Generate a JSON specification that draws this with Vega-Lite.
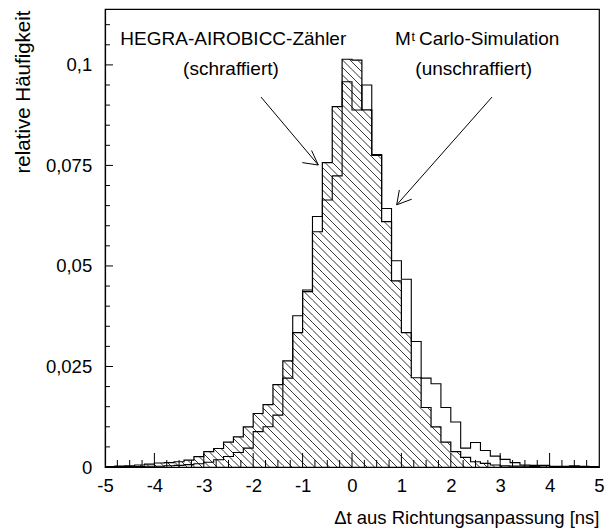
{
  "$schema": "https://vega.github.io/schema/vega-lite/v6.json",
  "width": 494,
  "height": 458,
  "autosize": {"type": "none"},
  "padding": {"left": 105, "top": 9, "right": 15, "bottom": 61},
  "background": "white",
  "config": {
    "view": {"stroke": "black", "strokeWidth": 1.2},
    "font": "Liberation Sans",
    "text": {"font": "Liberation Sans", "color": "black"}
  },
  "datasets": {
    "hist": [
      {"x0": -5.0, "x1": -4.8, "hegra": 0.0001, "mc": 0.0000},
      {"x0": -4.8, "x1": -4.6, "hegra": 0.0002, "mc": 0.0001},
      {"x0": -4.6, "x1": -4.4, "hegra": 0.0003, "mc": 0.0001},
      {"x0": -4.4, "x1": -4.2, "hegra": 0.0005, "mc": 0.0001},
      {"x0": -4.2, "x1": -4.0, "hegra": 0.0007, "mc": 0.0002},
      {"x0": -4.0, "x1": -3.8, "hegra": 0.0010, "mc": 0.0002},
      {"x0": -3.8, "x1": -3.6, "hegra": 0.0011, "mc": 0.0003},
      {"x0": -3.6, "x1": -3.4, "hegra": 0.0013, "mc": 0.0004},
      {"x0": -3.4, "x1": -3.2, "hegra": 0.0017, "mc": 0.0006},
      {"x0": -3.2, "x1": -3.0, "hegra": 0.0026, "mc": 0.0008},
      {"x0": -3.0, "x1": -2.8, "hegra": 0.0038, "mc": 0.0012},
      {"x0": -2.8, "x1": -2.6, "hegra": 0.0046, "mc": 0.0018},
      {"x0": -2.6, "x1": -2.4, "hegra": 0.0062, "mc": 0.0026},
      {"x0": -2.4, "x1": -2.2, "hegra": 0.0075, "mc": 0.0036},
      {"x0": -2.2, "x1": -2.0, "hegra": 0.0100, "mc": 0.0047},
      {"x0": -2.0, "x1": -1.8, "hegra": 0.0133, "mc": 0.0088},
      {"x0": -1.8, "x1": -1.6, "hegra": 0.0155, "mc": 0.0100},
      {"x0": -1.6, "x1": -1.4, "hegra": 0.0205, "mc": 0.0129},
      {"x0": -1.4, "x1": -1.2, "hegra": 0.0264, "mc": 0.0221},
      {"x0": -1.2, "x1": -1.0, "hegra": 0.0334, "mc": 0.0376},
      {"x0": -1.0, "x1": -0.8, "hegra": 0.0436, "mc": 0.0440},
      {"x0": -0.8, "x1": -0.6, "hegra": 0.0585, "mc": 0.0623},
      {"x0": -0.6, "x1": -0.4, "hegra": 0.0757, "mc": 0.0664},
      {"x0": -0.4, "x1": -0.2, "hegra": 0.0896, "mc": 0.0724},
      {"x0": -0.2, "x1": 0.0, "hegra": 0.1014, "mc": 0.0958},
      {"x0": 0.0, "x1": 0.2, "hegra": 0.1012, "mc": 0.0888},
      {"x0": 0.2, "x1": 0.4, "hegra": 0.0888, "mc": 0.0950},
      {"x0": 0.4, "x1": 0.6, "hegra": 0.0775, "mc": 0.0777},
      {"x0": 0.6, "x1": 0.8, "hegra": 0.0610, "mc": 0.0643},
      {"x0": 0.8, "x1": 1.0, "hegra": 0.0463, "mc": 0.0513},
      {"x0": 1.0, "x1": 1.2, "hegra": 0.0334, "mc": 0.0467},
      {"x0": 1.2, "x1": 1.4, "hegra": 0.0222, "mc": 0.0312},
      {"x0": 1.4, "x1": 1.6, "hegra": 0.0148, "mc": 0.0221},
      {"x0": 1.6, "x1": 1.8, "hegra": 0.0100, "mc": 0.0207},
      {"x0": 1.8, "x1": 2.0, "hegra": 0.0062, "mc": 0.0148},
      {"x0": 2.0, "x1": 2.2, "hegra": 0.0038, "mc": 0.0112},
      {"x0": 2.2, "x1": 2.4, "hegra": 0.0024, "mc": 0.0047},
      {"x0": 2.4, "x1": 2.6, "hegra": 0.0013, "mc": 0.0061},
      {"x0": 2.6, "x1": 2.8, "hegra": 0.0009, "mc": 0.0041},
      {"x0": 2.8, "x1": 3.0, "hegra": 0.0005, "mc": 0.0027},
      {"x0": 3.0, "x1": 3.2, "hegra": 0.0003, "mc": 0.0019},
      {"x0": 3.2, "x1": 3.4, "hegra": 0.0002, "mc": 0.0011},
      {"x0": 3.4, "x1": 3.6, "hegra": 0.0002, "mc": 0.0005},
      {"x0": 3.6, "x1": 3.8, "hegra": 0.0001, "mc": 0.0004},
      {"x0": 3.8, "x1": 4.0, "hegra": 0.0003, "mc": 0.0004},
      {"x0": 4.0, "x1": 4.2, "hegra": 0.0001, "mc": 0.0002},
      {"x0": 4.2, "x1": 4.4, "hegra": 0.0001, "mc": 0.0002},
      {"x0": 4.4, "x1": 4.6, "hegra": 0.0001, "mc": 0.0003},
      {"x0": 4.6, "x1": 4.8, "hegra": 0.0001, "mc": 0.0002},
      {"x0": 4.8, "x1": 5.0, "hegra": 0.0000, "mc": 0.0001}
    ],
    "xMajor": [{"X": -4}, {"X": -3}, {"X": -2}, {"X": -1}, {"X": 0}, {"X": 1}, {"X": 2}, {"X": 3}, {"X": 4}],
    "xMinor": [
      {"X": -4.75}, {"X": -4.5}, {"X": -4.25}, {"X": -3.75}, {"X": -3.5}, {"X": -3.25},
      {"X": -2.75}, {"X": -2.5}, {"X": -2.25}, {"X": -1.75}, {"X": -1.5}, {"X": -1.25},
      {"X": -0.75}, {"X": -0.5}, {"X": -0.25}, {"X": 0.25}, {"X": 0.5}, {"X": 0.75},
      {"X": 1.25}, {"X": 1.5}, {"X": 1.75}, {"X": 2.25}, {"X": 2.5}, {"X": 2.75},
      {"X": 3.25}, {"X": 3.5}, {"X": 3.75}, {"X": 4.25}, {"X": 4.5}, {"X": 4.75}
    ],
    "yMajor": [{"Y": 0.025}, {"Y": 0.05}, {"Y": 0.075}, {"Y": 0.1}],
    "yMinor": [
      {"Y": 0.005}, {"Y": 0.01}, {"Y": 0.015}, {"Y": 0.02}, {"Y": 0.03}, {"Y": 0.035},
      {"Y": 0.04}, {"Y": 0.045}, {"Y": 0.055}, {"Y": 0.06}, {"Y": 0.065}, {"Y": 0.07},
      {"Y": 0.08}, {"Y": 0.085}, {"Y": 0.09}, {"Y": 0.095}, {"Y": 0.105}, {"Y": 0.11}
    ],
    "notesCenter": [
      {"X": -2.403, "Y": 0.1050, "T": "HEGRA-AIROBICC-Zähler"},
      {"X": -2.45, "Y": 0.0975, "T": "(schraffiert)"},
      {"X": 2.464, "Y": 0.0975, "T": "(unschraffiert)"}
    ],
    "notesLeft": [
      {"X": 0.87, "Y": 0.1050, "T": "M"},
      {"X": 1.356, "Y": 0.1050, "T": "Carlo-Simulation"}
    ],
    "notesSup": [
      {"X": 1.205, "Y": 0.1059, "T": "t"}
    ],
    "arrows": [
      {"X": -1.842, "Y": 0.0920, "X2": -0.682, "Y2": 0.0751},
      {"X": -0.818, "Y": 0.0787, "X2": -0.682, "Y2": 0.0751},
      {"X": -1.006, "Y": 0.0757, "X2": -0.682, "Y2": 0.0751},
      {"X": 2.834, "Y": 0.0920, "X2": 0.905, "Y2": 0.0652},
      {"X": 0.958, "Y": 0.0689, "X2": 0.905, "Y2": 0.0652},
      {"X": 1.209, "Y": 0.0666, "X2": 0.905, "Y2": 0.0652}
    ]
  },
  "encoding": {
    "x": {
      "field": "X", "type": "quantitative",
      "scale": {"domain": [-5, 5], "nice": false, "zero": false},
      "axis": {
        "values": [-5,-4,-3,-2,-1,0,1,2,3,4,5],
        "labelExpr": "'' + datum.value",
        "ticks": false,
        "labelPadding": 24.7,
        "labelBaseline": "alphabetic",
        "labelFont": "Liberation Sans", "labelFontSize": 18.5, "labelColor": "black",
        "labelFlush": false, "labelOverlap": false, "labelBound": false,
        "domainColor": "black", "domainWidth": 1.2,
        "grid": false,
        "title": "Δt aus Richtungsanpassung [ns]",
        "titleFont": "Liberation Sans", "titleFontSize": 18.5, "titleFontWeight": "normal", "titleColor": "black",
        "titleAnchor": "end", "titleAlign": "right", "titleX": 494, "titleY": 56.3, "titleBaseline": "alphabetic"
      }
    },
    "y": {
      "field": "Y", "type": "quantitative",
      "scale": {"domain": [0, 0.1139], "nice": false, "zero": false},
      "axis": {
        "values": [0, 0.025, 0.05, 0.075, 0.1],
        "labelExpr": "replace('' + datum.value, '.', ',')",
        "ticks": false,
        "labelPadding": 13.3,
        "labelFont": "Liberation Sans", "labelFontSize": 18.5, "labelColor": "black",
        "labelFlush": false, "labelOverlap": false, "labelBound": false,
        "domainColor": "black", "domainWidth": 1.2,
        "grid": false,
        "title": "relative Häufigkeit",
        "titleFont": "Liberation Sans", "titleFontSize": 20.5, "titleFontWeight": "normal", "titleColor": "black",
        "titleAngle": -90, "titleAnchor": "end", "titleAlign": "right", "titleX": -76, "titleY": 1, "titleBaseline": "alphabetic"
      }
    }
  },
  "layer": [
    {
      "data": {"name": "hist"},
      "transform": [
        {"calculate": "sequence(ceil(0.012285*datum.x0/0.001865), floor((datum.hegra+0.012285*datum.x1)/0.001865)+1)", "as": "ks"},
        {"flatten": ["ks"], "as": ["k"]},
        {"calculate": "datum.k*0.001865", "as": "c"},
        {"calculate": "max(datum.x0, (datum.c-datum.hegra)/0.012285)", "as": "X"},
        {"calculate": "min(datum.x1, datum.c/0.012285)", "as": "X2"},
        {"filter": "datum.X2 > datum.X + 1e-9"},
        {"calculate": "datum.c-0.012285*datum.X", "as": "Y"},
        {"calculate": "datum.c-0.012285*datum.X2", "as": "Y2"}
      ],
      "mark": {"type": "rule", "stroke": "black", "strokeWidth": 0.8},
      "encoding": {
        "x2": {"field": "X2"},
        "y2": {"field": "Y2"}
      }
    },
    {
      "data": {"name": "hist"},
      "transform": [
        {"fold": ["x0", "x1"], "as": ["edge", "X"]},
        {"calculate": "datum.hegra", "as": "Y"}
      ],
      "mark": {"type": "line", "stroke": "black", "strokeWidth": 1.2},
      "encoding": {
        "order": [{"field": "X", "type": "quantitative"}, {"field": "edge", "sort": "descending"}]
      }
    },
    {
      "data": {"name": "hist"},
      "transform": [
        {"fold": ["x0", "x1"], "as": ["edge", "X"]},
        {"calculate": "datum.mc", "as": "Y"}
      ],
      "mark": {"type": "line", "stroke": "black", "strokeWidth": 1.1},
      "encoding": {
        "order": [{"field": "X", "type": "quantitative"}, {"field": "edge", "sort": "descending"}]
      }
    },
    {
      "data": {"name": "xMajor"},
      "transform": [{"calculate": "0", "as": "Y"}, {"calculate": "0.003482", "as": "Y2"}],
      "mark": {"type": "rule", "stroke": "black", "strokeWidth": 1},
      "encoding": {"y2": {"field": "Y2"}}
    },
    {
      "data": {"name": "xMinor"},
      "transform": [{"calculate": "0", "as": "Y"}, {"calculate": "0.001741", "as": "Y2"}],
      "mark": {"type": "rule", "stroke": "black", "strokeWidth": 1},
      "encoding": {"y2": {"field": "Y2"}}
    },
    {
      "data": {"name": "yMajor"},
      "transform": [{"calculate": "-5", "as": "X"}, {"calculate": "-4.838", "as": "X2"}],
      "mark": {"type": "rule", "stroke": "black", "strokeWidth": 1},
      "encoding": {"x2": {"field": "X2"}}
    },
    {
      "data": {"name": "yMinor"},
      "transform": [{"calculate": "-5", "as": "X"}, {"calculate": "-4.899", "as": "X2"}],
      "mark": {"type": "rule", "stroke": "black", "strokeWidth": 1},
      "encoding": {"x2": {"field": "X2"}}
    },
    {
      "data": {"name": "arrows"},
      "mark": {"type": "rule", "stroke": "black", "strokeWidth": 1},
      "encoding": {
        "x2": {"field": "X2"},
        "y2": {"field": "Y2"}
      }
    },
    {
      "data": {"name": "notesCenter"},
      "mark": {"type": "text", "fontSize": 19, "align": "center", "baseline": "alphabetic"},
      "encoding": {"text": {"field": "T"}}
    },
    {
      "data": {"name": "notesLeft"},
      "mark": {"type": "text", "fontSize": 19, "align": "left", "baseline": "alphabetic"},
      "encoding": {"text": {"field": "T"}}
    },
    {
      "data": {"name": "notesSup"},
      "mark": {"type": "text", "fontSize": 12.5, "align": "left", "baseline": "alphabetic"},
      "encoding": {"text": {"field": "T"}}
    }
  ]
}
